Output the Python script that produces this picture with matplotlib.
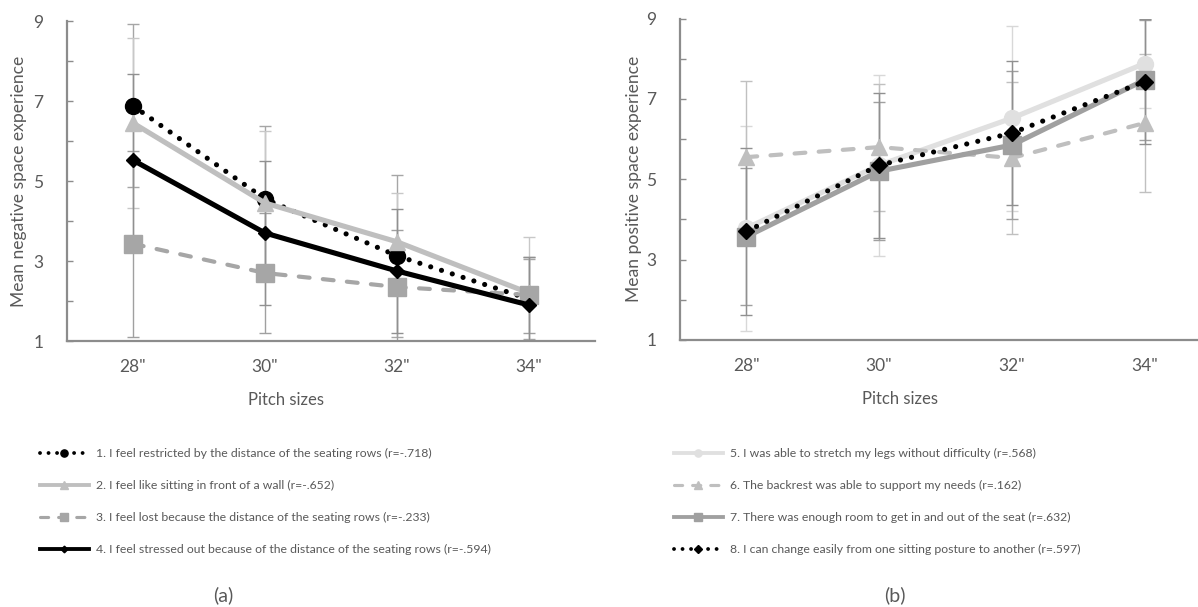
import matplotlib
matplotlib.use("Agg")
import matplotlib.pyplot as plt
from matplotlib.lines import Line2D
import numpy as np

plt.rcParams['font.family'] = ['Lato', 'DejaVu Sans']

pitch = ['28"', '30"', '32"', '34"']

# negative space experience (mean, sd)
neg_labels = [
    "1. I feel restricted by the distance of the seating rows (r=-.718)",
    "2. I feel like sitting in front of a wall (r=-.652)",
    "3. I feel lost because the distance of the seating rows (r=-.233)",
    "4. I feel stressed out because of the distance of the seating rows (r=-.594)",
]
neg1 = [6.88, 4.55, 3.13, 2.05]
neg1_sd = [2.04, 1.82, 2.02, 1.0]
neg2 = [6.45, 4.45, 3.48, 2.2]
neg2_sd = [2.12, 1.81, 1.22, 1.4]
neg3 = [3.43, 2.7, 2.35, 2.15]
neg3_sd = [2.33, 1.5, 1.43, 0.95]
neg4 = [5.52, 3.7, 2.75, 1.9]
neg4_sd = [2.15, 1.8, 1.55, 1.2]

# positive space experience (mean, sd)
pos_labels = [
    "5. I was able to stretch my legs without difficulty (r=.568)",
    "6. The backrest was able to support my needs (r=.162)",
    "7. There was enough room to get in and out of the seat (r=.632)",
    "8. I can change easily from one sitting posture to another (r=.597)",
]
pos5 = [3.78, 5.35, 6.52, 7.88]
pos5_sd = [2.55, 2.25, 2.3, 1.1]
pos6 = [5.55, 5.8, 5.53, 6.4]
pos6_sd = [1.9, 1.58, 1.88, 1.72]
pos7 = [3.57, 5.2, 5.85, 7.47]
pos7_sd = [1.7, 1.72, 1.84, 1.5]
pos8 = [3.7, 5.35, 6.15, 7.43]
pos8_sd = [2.08, 1.8, 1.8, 1.55]

txt = '#595959'
axcol = '#8c8c8c'
dotted = (0, (0.01, 2.2))
dashed = (0, (2.6, 3.2))

# style per series: color, linestyle, lw, marker, markersize, errcolor
neg_styles = [
    ('black', dotted, 3.7, 'o', 11.5, '#a6a6a6'),
    ('#bfbfbf', '-', 3.7, '^', 11.5, '#c8c8c8'),
    ('#a6a6a6', dashed, 3.0, 's', 13, '#a0a0a0'),
    ('black', '-', 3.7, 'D', 7.5, '#909090'),
]
pos_styles = [
    ('#e0e0e0', '-', 3.7, 'o', 11.5, '#d8d8d8'),
    ('#bfbfbf', dashed, 3.0, '^', 11.5, '#c0c0c0'),
    ('#a0a0a0', '-', 3.7, 's', 13, '#a0a0a0'),
    ('black', dotted, 3.7, 'D', 8.5, '#909090'),
]

fig = plt.figure(figsize=(11.98, 6.07), dpi=100)
W, H = 1198, 607
ax1 = fig.add_axes([67 / W, (H - 341) / H, 528 / W, 320 / H])
ax2 = fig.add_axes([680 / W, (H - 340) / H, 531 / W, 321.5 / H])


def draw(ax, series, sds, styles, labels, ylabel, leg_x, ylab_x):
    x = np.arange(len(pitch))
    handles = []
    for i, (y, sd, st) in enumerate(zip(series, sds, styles)):
        col, ls, lw, mk, ms, ecol = st
        ax.errorbar(x, y, yerr=sd, fmt='none', ecolor=ecol, elinewidth=1,
                    capsize=4.5, capthick=1, zorder=1 + i * 0.1)
        ax.plot(x, y, color=col, linestyle=ls, linewidth=lw,
                dash_capstyle='round', solid_capstyle='butt',
                marker=mk, markersize=ms, markerfacecolor=col,
                markeredgecolor=col, zorder=3 + i)
        handles.append(Line2D([], [], color=col, linestyle=ls, linewidth=lw * 0.75,
                              dash_capstyle='round', marker=mk,
                              markersize=ms * 0.45, markerfacecolor=col,
                              markeredgecolor=col))
    ax.set_xlim(-0.5, 3.5)
    ax.set_ylim(1, 9)
    ax.set_xticks(x)
    ax.set_xticklabels(pitch)
    ax.set_yticks(np.arange(1, 10, 1))
    ax.set_yticklabels([str(v) if v % 2 == 1 else '' for v in range(1, 10)])
    for s in ['top', 'right']:
        ax.spines[s].set_visible(False)
    for s in ['left', 'bottom']:
        ax.spines[s].set_color(axcol)
        ax.spines[s].set_linewidth(1.6)
    ax.tick_params(axis='x', length=0, pad=13, labelsize=12.5, labelcolor=txt)
    ax.tick_params(axis='y', direction='in', length=4, width=1, color=axcol,
                   pad=17, labelsize=12.5, labelcolor=txt)
    ax.set_xlabel('Pitch sizes', fontsize=12, color=txt)
    ax.xaxis.set_label_coords(0.415, -0.158)
    ax.set_ylabel(ylabel, fontsize=12.6, color=txt)
    ax.yaxis.set_label_coords(ylab_x, 0.5)
    fig.legend(handles, labels, loc='upper left',
               bbox_to_anchor=(leg_x / W, (H - 448) / H),
               frameon=False, fontsize=8.8, handlelength=4.0,
               handletextpad=0.6, labelspacing=1.72, borderpad=0,
               borderaxespad=0, labelcolor=txt)


draw(ax1, [neg1, neg2, neg3, neg4], [neg1_sd, neg2_sd, neg3_sd, neg4_sd],
     neg_styles, neg_labels, 'Mean negative space experience', 40, -0.076)
draw(ax2, [pos5, pos6, pos7, pos8], [pos5_sd, pos6_sd, pos7_sd, pos8_sd],
     pos_styles, pos_labels, 'Mean positive space experience', 674, -0.072)

fig.text(223 / W, (H - 595) / H, '(a)', ha='center', va='center', fontsize=14, color=txt)
fig.text(895 / W, (H - 595) / H, '(b)', ha='center', va='center', fontsize=14, color=txt)

fig.savefig('out.png', dpi=100)
